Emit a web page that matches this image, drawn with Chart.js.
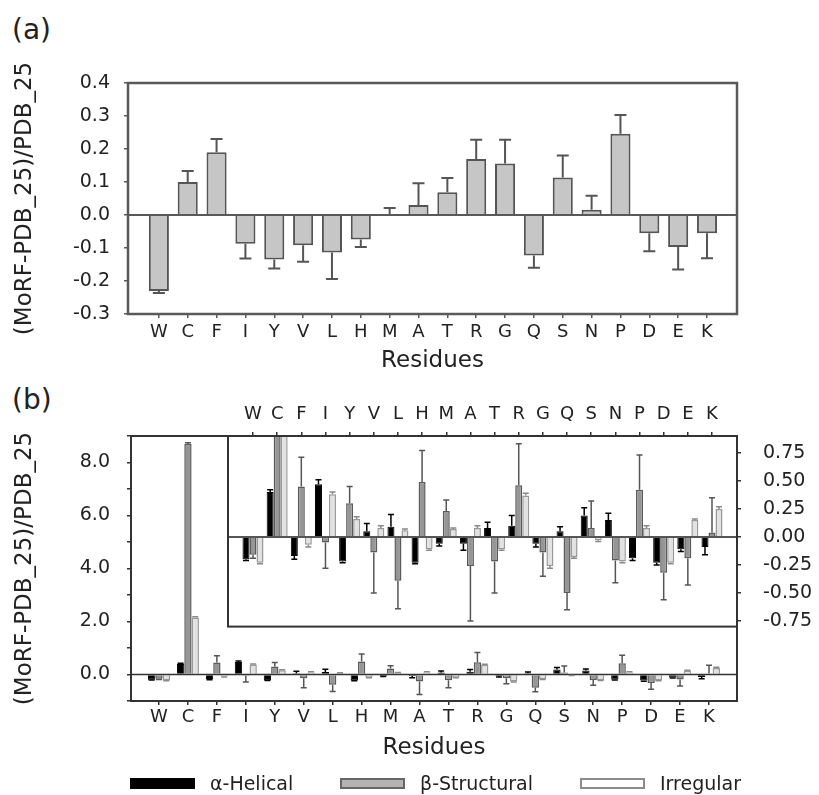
<!DOCTYPE html>
<html>
<head>
<meta charset="utf-8">
<script src="https://cdn.jsdelivr.net/npm/chart.js@4.4.1/dist/chart.umd.min.js"></script>
<style>
  html, body { margin: 0; padding: 0; background: #fff; overflow: hidden; }
  #page { position: relative; width: 819px; height: 795px; font-family: "DejaVu Sans", sans-serif; color: #222; }
  canvas { position: absolute; }
  #chartA { left: 0; top: 0; }
  #chartB { left: 0; top: 380px; }
  #chartInset { left: 180px; top: 380px; }
  .panel-tag { position: absolute; left: 12px; font-size: 28px; line-height: 30px; }
  .legend .item { position: absolute; top: 772px; height: 22px; display: flex; align-items: center; font-size: 19px; white-space: nowrap; }
  .legend .swatch { width: 65px; height: 11px; box-sizing: border-box; margin-right: 15px; }
  .sw-helical { background: #000; }
  .sw-structural { background: #b3b3b3; border: 2px solid #666; }
  .sw-irregular { background: #fff; border: 2px solid #8c8c8c; }
</style>
</head>
<body>
<div id="page">
  <div class="panel-tag" style="top:15px">(a)</div>
  <div class="panel-tag" style="top:385px">(b)</div>
  <canvas id="chartA" width="819" height="380"></canvas>
  <canvas id="chartB" width="819" height="415"></canvas>
  <canvas id="chartInset" width="639" height="280"></canvas>
  <div class="legend">
    <div class="item" style="left:130px"><span class="swatch sw-helical"></span>α-Helical</div>
    <div class="item" style="left:340px"><span class="swatch sw-structural"></span>β-Structural</div>
    <div class="item" style="left:580px"><span class="swatch sw-irregular"></span>Irregular</div>
  </div>
</div>
<script>
/* ================================================
   DATA
================================================ */

const residues = ['W', 'C', 'F', 'I', 'Y', 'V', 'L', 'H', 'M', 'A',
                  'T', 'R', 'G', 'Q', 'S', 'N', 'P', 'D', 'E', 'K'];

/* panel (a) — all residues */
const ratioAll    = [-0.23, 0.10, 0.19, -0.087, -0.135, -0.092, -0.114, -0.074, 0.003, 0.03,
                     0.069, 0.17, 0.156, -0.123, 0.114, 0.016, 0.246, -0.055, -0.097, -0.055];
const ratioAllErr = [0.006, 0.033, 0.04, 0.045, 0.027, 0.05, 0.08, 0.023, 0.018, 0.066,
                     0.043, 0.058, 0.072, 0.037, 0.066, 0.042, 0.057, 0.055, 0.068, 0.076];

/* panel (b) — by secondary structure */
const helical       = [-0.20, 0.40, -0.17, 0.47, -0.22, 0.05, 0.09, -0.23, -0.06, -0.06,
                       0.08, 0.10, -0.06, 0.05, 0.19, 0.15, -0.19, -0.23, -0.11, -0.09];
const helicalErr    = [0.01, 0.02, 0.03, 0.04, 0.01, 0.07, 0.11, 0.01, 0.02, 0.06,
                       0.05, 0.09, 0.03, 0.04, 0.07, 0.06, 0.02, 0.02, 0.02, 0.07];
const structural    = [-0.16, 8.70, 0.45, -0.05, 0.30, -0.14, -0.39, 0.49, 0.23, -0.26,
                       -0.22, 0.46, -0.14, -0.50, 0.08, -0.21, 0.42, -0.32, -0.19, 0.04];
const structuralErr = [0.03, 0.05, 0.26, 0.23, 0.15, 0.36, 0.25, 0.28, 0.10, 0.49,
                       0.28, 0.37, 0.21, 0.15, 0.24, 0.20, 0.31, 0.24, 0.24, 0.31];
const irregular     = [-0.23, 2.15, -0.07, 0.38, 0.16, 0.08, 0.06, -0.11, 0.07, 0.08,
                       -0.11, 0.37, -0.26, -0.18, -0.03, -0.22, 0.08, -0.23, 0.15, 0.25];
const irregularErr  = [0.01, 0.03, 0.02, 0.02, 0.02, 0.02, 0.01, 0.01, 0.01, 0.02,
                       0.01, 0.02, 0.02, 0.01, 0.01, 0.01, 0.02, 0.01, 0.01, 0.02];

const insetTicks = [-0.75, -0.5, -0.25, 0, 0.25, 0.5, 0.75];

/* ================================================
   COLORS
================================================ */

const COLORS = {
  text:        '#222',
  frame:       '#333',
  frameA:      '#595959',
  barA:        '#c6c6c6',
  barABorder:  '#555',
  helical:     '#000',
  structural:  '#969696',
  structEdge:  '#5a5a5a',
  irregular:   '#e2e2e2',
  irregEdge:   '#999',
};

Chart.defaults.font.family = '"DejaVu Sans", "Liberation Sans", sans-serif';
Chart.defaults.color = COLORS.text;

/* ================================================
   PLUGINS
================================================ */

/* box round the plot area + zero line */
const framePlugin = {
  id: 'frame',
  beforeDraw(chart, args, opts) {
    if (!opts.fill) return;
    const { ctx, chartArea: a } = chart;
    ctx.save();
    ctx.fillStyle = opts.fill;
    ctx.fillRect(a.left, a.top, a.width, a.height);
    ctx.restore();
  },
  afterDatasetsDraw(chart, args, opts) {
    const { ctx, chartArea: a } = chart;
    const y0 = chart.scales.y.getPixelForValue(0);
    ctx.save();
    ctx.strokeStyle = opts.zeroColor;
    ctx.lineWidth = opts.zeroWidth;
    ctx.beginPath();
    ctx.moveTo(a.left, y0);
    ctx.lineTo(a.right, y0);
    ctx.stroke();
    ctx.strokeStyle = opts.color;
    ctx.lineWidth = opts.width;
    ctx.strokeRect(a.left, a.top, a.width, a.height);
    ctx.restore();
  },
};

/* one-sided error bars, pointing away from zero */
const errorBarPlugin = {
  id: 'errorBars',
  afterDatasetsDraw(chart) {
    const { ctx, chartArea: a } = chart;
    ctx.save();
    ctx.beginPath();
    ctx.rect(a.left, a.top, a.width, a.height);
    ctx.clip();
    chart.data.datasets.forEach((ds, di) => {
      if (!ds.errors) return;
      const meta = chart.getDatasetMeta(di);
      const yScale = chart.scales[meta.yAxisID];
      ctx.strokeStyle = ds.errorColor;
      ctx.lineWidth = ds.errorWidth;
      meta.data.forEach((bar, i) => {
        const v = ds.data[i].y;
        const e = ds.errors[i];
        if (!e) return;
        const yv  = yScale.getPixelForValue(v);
        const end = yScale.getPixelForValue(v < 0 ? v - e : v + e);
        const half = ds.capWidth / 2;
        ctx.beginPath();
        ctx.moveTo(bar.x, yv);
        ctx.lineTo(bar.x, end);
        ctx.moveTo(bar.x - half, end);
        ctx.lineTo(bar.x + half, end);
        ctx.stroke();
      });
    });
    ctx.restore();
  },
};

/* ================================================
   HELPERS
================================================ */

function points(values) {
  return values.map((v, i) => ({ x: i, y: v }));
}

function tickGrid(color) {
  return { offset: false, drawOnChartArea: false, tickLength: 4, tickColor: color, color, lineWidth: 1.5 };
}

function residueAxis(min, max, position, padding, height, color) {
  return {
    type: 'linear', position, min, max, bounds: 'data', offset: false,
    afterBuildTicks: axis => { axis.ticks = residues.map((_, i) => ({ value: i })); },
    afterFit: axis => { axis.height = height; },
    ticks: {
      callback: v => residues[v],
      autoSkip: false, maxRotation: 0, padding,
      font: { size: 18 }, color: COLORS.text,
    },
    grid: tickGrid(color),
    border: { display: false },
  };
}

function structureDatasets(capWidth) {
  return [
    {
      label: 'α-Helical', data: points(helical), errors: helicalErr,
      backgroundColor: COLORS.helical, borderColor: COLORS.helical, borderWidth: 1,
      errorColor: '#000', errorWidth: 1.5, capWidth,
    },
    {
      label: 'β-Structural', data: points(structural), errors: structuralErr,
      backgroundColor: COLORS.structural, borderColor: COLORS.structEdge, borderWidth: 1.5,
      errorColor: '#555', errorWidth: 1.5, capWidth,
    },
    {
      label: 'Irregular', data: points(irregular), errors: irregularErr,
      backgroundColor: COLORS.irregular, borderColor: COLORS.irregEdge, borderWidth: 1.5,
      errorColor: '#8a8a8a', errorWidth: 1.5, capWidth,
    },
  ];
}

const yTitle = {
  display: true, text: '(MoRF-PDB_25)/PDB_25',
  font: { size: 23 }, color: COLORS.text, padding: { top: 11, bottom: 0 },
};

const xTitle = {
  display: true, text: 'Residues',
  font: { size: 23 }, color: COLORS.text, padding: { top: 0, bottom: 0 },
};

const baseOptions = {
  responsive: false,
  animation: false,
  events: [],
};

/* ================================================
   PANEL (a)
================================================ */

new Chart(document.getElementById('chartA').getContext('2d'), {
  type: 'bar',
  data: {
    datasets: [{
      label: 'All',
      data: points(ratioAll),
      errors: ratioAllErr,
      backgroundColor: COLORS.barA,
      borderColor: COLORS.barABorder,
      borderWidth: 2,
      barPercentage: 0.87,
      categoryPercentage: 0.8,
      errorColor: COLORS.barABorder, errorWidth: 2, capWidth: 12,
    }],
  },
  options: {
    ...baseOptions,
    layout: { padding: { top: 83, right: 82, left: 0, bottom: 5 } },
    plugins: {
      legend: { display: false },
      tooltip: { enabled: false },
      frame: { color: COLORS.frameA, width: 2.5, zeroColor: COLORS.frameA, zeroWidth: 2 },
    },
    scales: {
      x: { ...residueAxis(-1.07, 20.04, 'bottom', 4, 61, COLORS.frameA), title: xTitle },
      y: {
        min: -0.3, max: 0.4, bounds: 'data',
        afterFit: axis => { axis.width = 128; },
        ticks: { stepSize: 0.1, callback: v => v.toFixed(1), padding: 14, font: { size: 19 } },
        grid: tickGrid(COLORS.frameA),
        border: { display: false },
        title: yTitle,
      },
    },
  },
  plugins: [framePlugin, errorBarPlugin],
});

/* ================================================
   PANEL (b) — MAIN
================================================ */

new Chart(document.getElementById('chartB').getContext('2d'), {
  type: 'bar',
  data: { datasets: structureDatasets(6) },
  options: {
    ...baseOptions,
    datasets: { bar: { barPercentage: 1.0, categoryPercentage: 0.76 } },
    layout: { padding: { top: 56, right: 82, left: 0, bottom: 33 } },
    plugins: {
      legend: { display: false },
      tooltip: { enabled: false },
      frame: { color: COLORS.frame, width: 2, zeroColor: COLORS.frame, zeroWidth: 1.5 },
    },
    scales: {
      x: { ...residueAxis(-0.967, 19.967, 'bottom', 2, 61, COLORS.frame), title: xTitle },
      y: {
        min: -1, max: 9, bounds: 'data',
        afterFit: axis => { axis.width = 131; },
        ticks: {
          stepSize: 1, padding: 17, font: { size: 19 }, autoSkip: false,
          callback: v => (Math.round(v) % 2 === 0 ? v.toFixed(1) : ''),
        },
        grid: tickGrid(COLORS.frame),
        border: { display: false },
        title: yTitle,
      },
    },
  },
  plugins: [framePlugin, errorBarPlugin],
});

/* ================================================
   PANEL (b) — INSET
================================================ */

new Chart(document.getElementById('chartInset').getContext('2d'), {
  type: 'bar',
  data: { datasets: structureDatasets(6) },
  options: {
    ...baseOptions,
    datasets: { bar: { barPercentage: 1.0, categoryPercentage: 0.87 } },
    layout: { padding: { top: 0, right: 0, left: 48, bottom: 15 } },
    plugins: {
      legend: { display: false },
      tooltip: { enabled: false },
      frame: { color: COLORS.frame, width: 2, zeroColor: '#555', zeroWidth: 2, fill: '#fff' },
    },
    scales: {
      x: residueAxis(-1.035, 20.035, 'top', 7, 56, COLORS.frame),
      y: {
        position: 'right', min: -0.8, max: 0.9, bounds: 'data',
        afterBuildTicks: axis => { axis.ticks = insetTicks.map(v => ({ value: v })); },
        afterFit: axis => { axis.width = 82; },
        ticks: { callback: v => v.toFixed(2), padding: 22, font: { size: 19 } },
        grid: tickGrid(COLORS.frame),
        border: { display: false },
      },
    },
  },
  plugins: [framePlugin, errorBarPlugin],
});
</script>
</body>
</html>
